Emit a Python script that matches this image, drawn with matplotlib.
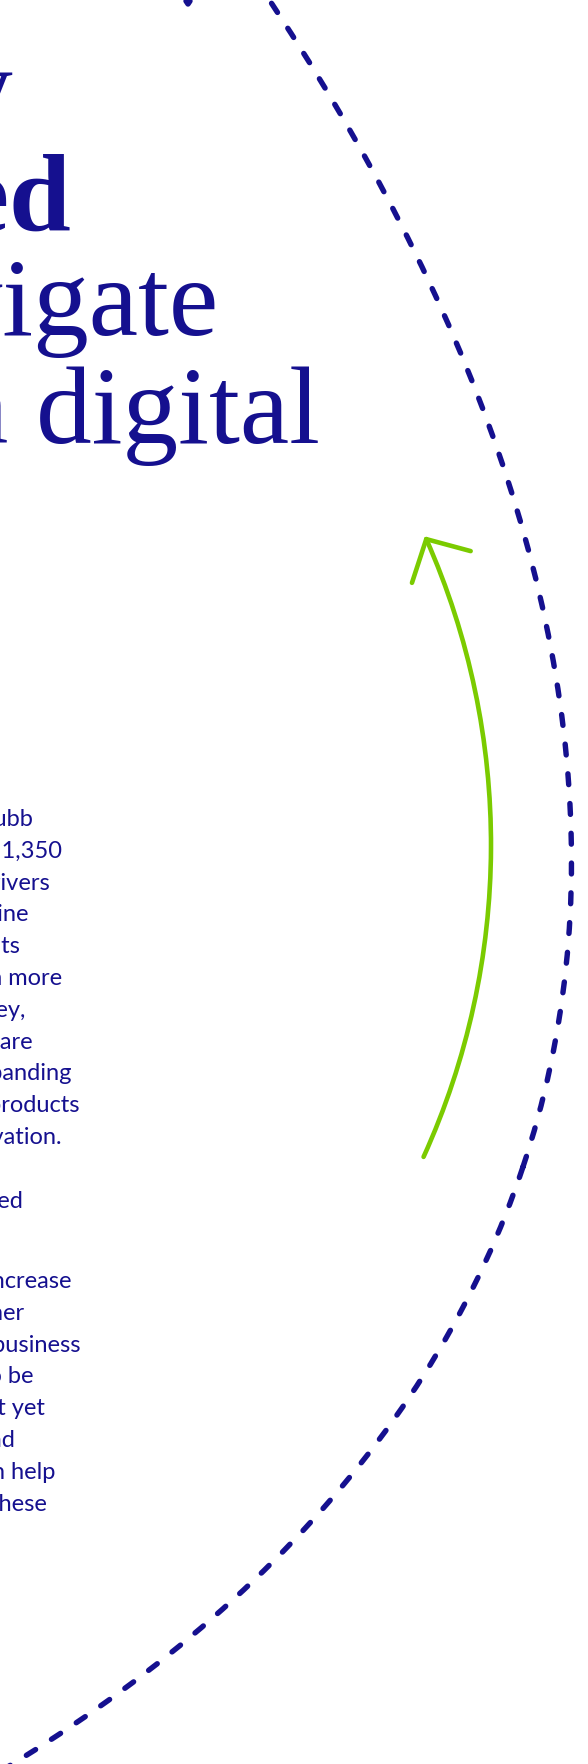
import numpy as np
import matplotlib
matplotlib.use("Agg")
import matplotlib.pyplot as plt
from matplotlib.patches import Ellipse, Arc

NAVY = "#15108F"
GREEN = "#7BCB00"

# dashed path: fitted ellipse (centre, semi-axes, rotation) in page pixels
dash_center = (-3813.2, -279.4)
dash_semi = (2057.9, 4571.0)
dash_angle = 108.45

# small dash fragment at top edge
frag_x = [186, 188, 190]
frag_y = [1, 4, 1]

# green arrow arc
green_center = (-264, 845)
green_radius = 755
green_theta = (-23.9, 24.4)

head_lines = ["Our survey", "revealed", "navigate", "in digital"]
head_bold = [False, True, False, False]
head_right = [13, 71, 219, 320]
head_base = [124, 230, 335, 443]

para1 = ["At Chubb", "survey of 1,350", "key drivers", "online", "results",
         "and even more", "the survey,", "and are", "expanding", "new products",
         "innovation.", "", "focused"]
para1_right = [33, 62, 50, 28, 20, 62, 25, 33, 72, 80, 62, 0, 23]
para2 = ["to increase", "partner", "the business", "to be", "but not yet",
         "and", "can help", "these"]
para2_right = [72, 25, 80, 33, 45, 15, 55, 47]

fig = plt.figure(figsize=(5.88, 17.64), dpi=100)
ax = fig.add_axes([0, 0, 1, 1])
ax.set_xlim(0, 588)
ax.set_ylim(1764, 0)
ax.axis("off")

ell = Ellipse(dash_center, 2 * dash_semi[0], 2 * dash_semi[1], angle=dash_angle,
              fill=False, ec=NAVY, lw=3.9, ls=(0, (2.0, 3.5)), capstyle="round")
ax.add_patch(ell)
ax.plot(frag_x, frag_y, color=NAVY, lw=3.9, solid_capstyle="round",
        solid_joinstyle="round")

# green arrow
ax.add_patch(Arc(green_center, 2 * green_radius, 2 * green_radius,
                 theta1=green_theta[0], theta2=green_theta[1], ec=GREEN, lw=3.3,
                 capstyle="round"))
t0 = np.radians(green_theta[0])
tip = (green_center[0] + green_radius * np.cos(t0),
       green_center[1] + green_radius * np.sin(t0))
back = np.degrees(np.arctan2(np.cos(t0), -np.sin(t0)))
arm_len = 46
for spread in (42, -51):
    a = np.radians(back + spread)
    ax.plot([tip[0], tip[0] + arm_len * np.cos(a)], [tip[1], tip[1] + arm_len * np.sin(a)],
            color=GREEN, lw=3.3, solid_capstyle="round")

for s, b, r, yb in zip(head_lines, head_bold, head_right, head_base):
    ax.text(r, yb, s, ha="right", va="baseline", color=NAVY, fontsize=80,
            family="Liberation Serif", fontweight="bold" if b else "normal")

y0b, lh = 826, 31.8
for i, (s, r) in enumerate(zip(para1, para1_right)):
    if s:
        ax.text(r, y0b + lh * i, s, ha="right", va="baseline", color=NAVY,
                fontsize=17, family="Lato")
y2 = y0b + lh * 12 + 80.4
for i, (s, r) in enumerate(zip(para2, para2_right)):
    ax.text(r, y2 + lh * i, s, ha="right", va="baseline", color=NAVY,
            fontsize=17, family="Lato")

fig.savefig("out.png", dpi=100)
